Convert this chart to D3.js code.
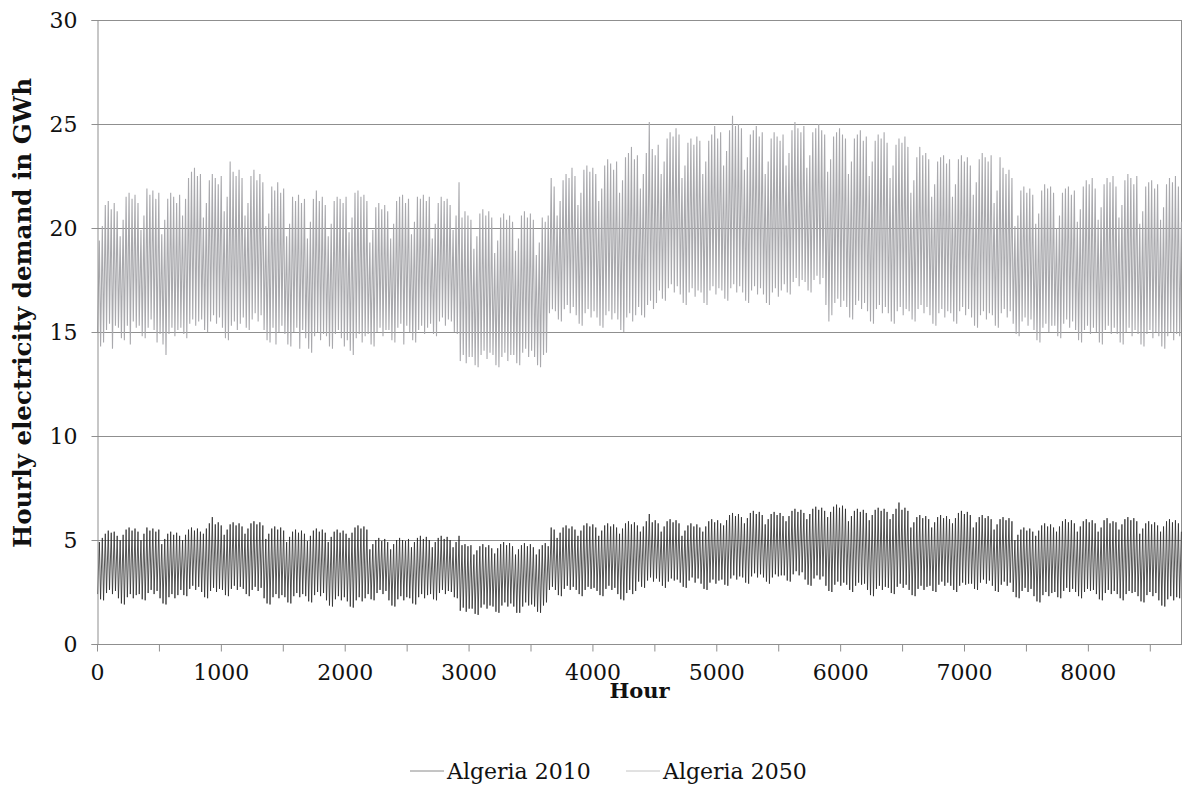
<!DOCTYPE html>
<meta charset="utf-8">
<style>
body { margin: 0; background: #fff; }
.grid line { stroke: #8f8f8f; stroke-width: 1px; }
.axis path, .axis line { stroke: #8f8f8f; stroke-width: 1px; }
.axis text { font-family: "DejaVu Serif", serif; font-size: 22px; fill: #111; }
.title { font-family: "DejaVu Serif", serif; font-weight: bold; fill: #111; }
.legend text { font-family: "DejaVu Serif", serif; font-size: 22px; fill: #111; }
</style>
<svg width="1183" height="787"></svg>
<script src="https://d3js.org/d3.v7.min.js"></script>
<script>

// daily evening peak and early morning trough, GWh, one row per week (Fri, Sat, Sun ... Thu)
var peak2050 = [
  19.4, 20.1, 21.1, 21.3, 20.9, 21.2, 20.8,
  19.6, 20.4, 21.5, 21.7, 21.4, 21.6, 21.2,
  19.9, 20.6, 21.9, 21.6, 21.8, 21.4, 21.7,
  19.7, 20.4, 21.4, 21.7, 21.5, 21.2, 21.6,
  20.6, 21.4, 22.4, 22.7, 22.9, 22.5, 22.6,
  20.5, 21.2, 22.3, 22.6, 22.4, 22.1, 22.5,
  20.8, 21.5, 23.2, 22.7, 22.5, 22.8, 22.4,
  20.6, 21.2, 22.5, 22.8, 22.3, 22.6, 22.2,
  20.1, 20.7, 22.0, 21.8, 22.2, 21.7, 21.9,
  19.6, 20.2, 21.5, 21.3, 21.6, 21.2, 21.4,
  19.5, 20.3, 21.4, 21.8, 21.3, 21.5, 21.1,
  19.6, 20.2, 21.3, 21.5, 21.4, 21.2, 21.5,
  19.8, 20.5, 21.7, 21.8, 21.5, 21.6, 21.3,
  19.3, 19.9, 21.0, 21.2, 20.9, 21.1, 20.8,
  19.5, 20.2, 21.3, 21.5, 21.6, 21.2, 21.4,
  19.7, 20.3, 21.5, 21.4, 21.6, 21.3, 21.5,
  19.5, 20.2, 21.2, 21.5, 21.3, 21.4, 21.1,
  19.9, 20.6, 22.2, 20.5, 20.8, 20.6, 20.4,
  19.0, 19.6, 20.7, 20.9, 20.6, 20.8, 20.5,
  18.8, 19.4, 20.5, 20.7, 20.4, 20.6, 20.3,
  18.9, 19.5, 20.6, 20.8, 20.5, 20.7, 20.4,
  18.7, 19.3, 20.5, 20.3, 20.6, 22.4, 22.0,
  20.6, 21.3, 22.3, 22.6, 22.4, 22.9, 22.5,
  21.1, 21.7, 22.8, 23.0, 22.7, 22.9, 22.6,
  21.3, 21.9, 23.0, 23.3, 23.1, 22.8, 23.2,
  21.7, 22.3, 23.4, 23.6, 23.9, 23.3, 23.5,
  21.9, 22.6, 23.6, 25.1, 23.8, 23.5, 24.0,
  22.6, 23.2, 24.3, 24.6, 24.4, 24.8, 24.5,
  22.4, 23.0, 24.1, 24.3, 24.0, 24.4, 24.2,
  22.6, 23.2, 24.2, 24.5, 24.9, 24.3, 24.6,
  23.0, 23.7, 24.7, 25.4, 24.9, 25.0, 24.8,
  22.8, 23.4, 24.5, 24.7, 24.9, 24.4, 24.6,
  22.6, 23.2, 24.3, 24.6, 24.4, 24.2, 24.5,
  23.0, 23.6, 24.7, 25.1, 24.8, 24.6, 24.9,
  22.9, 23.5, 24.6, 24.8, 25.0, 24.7, 24.5,
  22.7, 23.3, 24.4, 24.6, 24.8, 24.5, 24.3,
  22.6, 23.2, 24.3, 24.5, 24.7, 24.2, 24.4,
  22.5, 23.2, 24.2, 24.5, 24.3, 24.6, 24.1,
  22.4, 23.0, 24.0, 24.3, 24.1, 24.4, 23.9,
  21.7, 22.3, 23.4, 23.9, 23.5, 23.6, 23.3,
  21.5, 22.1, 23.2, 23.4, 23.5, 23.1, 23.3,
  21.5, 22.1, 23.3, 23.5, 23.2, 23.4, 23.0,
  21.6, 22.2, 23.3, 23.6, 23.4, 23.2, 23.5,
  21.2, 21.8, 23.4, 22.9, 22.6, 22.8, 22.4,
  20.1, 20.6, 21.8, 22.0, 21.7, 21.9, 21.6,
  20.2, 20.7, 21.8, 22.1, 21.9, 22.0, 21.7,
  20.0, 20.6, 21.7, 21.9, 22.0, 21.6, 21.8,
  20.3, 20.9, 22.0, 22.3, 22.1, 22.4, 21.9,
  20.4, 21.0, 22.1, 22.4, 22.2, 22.5, 22.0,
  20.5, 21.1, 22.3, 22.6, 22.4, 22.1, 22.5,
  20.2, 20.8, 22.0, 22.2, 22.3, 21.9, 22.1,
  20.4, 21.0, 22.1, 22.4, 22.2, 22.5, 22.0,
  20.3
];

var trough2050 = [
  15.0, 14.3, 14.5, 15.1, 15.4, 14.2, 15.3,
  15.2, 14.7, 14.6, 15.3, 14.4, 15.5, 15.2,
  15.3, 14.8, 14.7, 15.2, 15.6, 15.1, 14.5,
  14.9, 14.4, 13.9, 14.9, 15.2, 14.8, 15.1,
  15.2, 14.9, 14.7, 15.4, 15.6, 15.3, 15.5,
  15.6, 15.1, 15.0, 15.5, 15.8, 15.4, 15.7,
  15.2, 14.7, 14.6, 15.3, 15.5, 15.1, 15.4,
  15.7, 15.2, 15.1, 15.6, 15.9, 15.5, 15.8,
  15.1, 14.6, 14.5, 15.2, 14.4, 15.0, 15.3,
  14.9, 14.4, 14.3, 15.0, 15.2, 14.2, 15.1,
  14.7, 14.2, 14.0, 14.8, 15.0, 14.6, 14.9,
  14.8, 14.3, 14.2, 14.9, 15.1, 14.7, 14.3,
  14.6, 14.1, 13.9, 14.7, 14.9, 14.5, 14.8,
  14.9, 14.4, 14.3, 15.0, 15.2, 14.8, 15.1,
  15.1, 14.6, 14.5, 15.2, 15.4, 14.4, 15.3,
  15.0, 14.6, 14.5, 15.1, 15.3, 14.9, 15.2,
  15.4, 14.9, 14.8, 15.5, 15.7, 15.3, 15.6,
  15.5, 15.0, 14.9, 13.6, 13.9, 13.5, 13.8,
  13.8, 13.4, 13.3, 13.9, 14.1, 13.7, 14.0,
  13.9, 13.4, 13.3, 13.8, 14.0, 13.6, 13.9,
  13.9, 13.5, 13.4, 14.0, 14.2, 13.8, 14.1,
  13.8, 13.4, 13.3, 13.9, 14.0, 15.9, 16.1,
  16.0, 15.6, 15.5, 16.1, 16.3, 15.9, 16.2,
  15.8, 15.4, 15.3, 15.9, 16.1, 15.7, 16.0,
  15.7, 15.3, 15.2, 15.8, 16.0, 15.6, 15.9,
  15.6, 15.1, 15.0, 15.7, 15.9, 15.5, 15.8,
  16.2, 15.8, 15.7, 16.3, 16.5, 16.1, 16.4,
  17.0, 16.6, 16.5, 17.1, 17.3, 16.9, 17.2,
  16.8, 16.4, 16.3, 16.9, 17.1, 16.7, 17.0,
  16.9, 16.4, 16.3, 17.0, 17.2, 16.8, 17.1,
  17.0, 16.6, 16.5, 17.1, 17.3, 16.9, 17.2,
  16.9, 16.5, 16.4, 17.0, 17.2, 16.8, 17.1,
  16.8, 16.4, 16.3, 16.9, 17.1, 16.7, 17.0,
  17.3, 16.9, 16.8, 17.4, 17.6, 17.2, 17.5,
  17.4, 17.0, 16.9, 17.5, 17.7, 17.3, 17.6,
  16.3, 15.5, 15.8, 16.4, 16.6, 16.2, 16.5,
  16.2, 15.7, 15.6, 16.3, 16.5, 16.1, 16.4,
  16.0, 15.5, 15.4, 16.1, 16.3, 15.9, 16.2,
  15.9, 15.5, 15.4, 16.0, 16.2, 15.8, 16.1,
  16.0, 15.6, 15.5, 16.1, 16.3, 15.9, 16.2,
  15.8, 15.4, 15.3, 15.9, 16.1, 15.7, 16.0,
  15.9, 15.5, 15.4, 16.0, 16.2, 15.8, 16.1,
  15.7, 15.3, 15.2, 15.8, 16.0, 15.6, 15.9,
  15.8, 15.3, 15.2, 15.9, 16.1, 15.7, 16.0,
  15.4, 14.9, 14.8, 15.5, 15.7, 15.3, 15.6,
  15.1, 14.6, 14.5, 15.2, 15.4, 15.0, 15.3,
  15.3, 14.8, 14.7, 15.4, 15.6, 15.2, 15.5,
  15.1, 14.6, 14.5, 15.1, 15.3, 14.9, 15.2,
  15.0, 14.5, 14.4, 15.1, 15.3, 14.9, 15.2,
  14.9, 14.5, 14.4, 15.0, 15.2, 14.8, 15.1,
  14.9, 14.4, 14.3, 14.9, 15.1, 14.7, 15.0,
  14.8, 14.3, 14.2, 14.8, 15.0, 14.6, 14.9,
  14.8
];

var peak2010 = [
  4.9, 5.1, 5.3, 5.45, 5.35, 5.4, 5.2,
  5.0, 5.25, 5.5, 5.6, 5.45, 5.55, 5.4,
  5.0, 5.3, 5.6, 5.45, 5.55, 5.4, 5.5,
  4.8, 5.05, 5.3, 5.4, 5.25, 5.35, 5.2,
  5.0, 5.25, 5.5, 5.6, 5.45, 5.55, 5.4,
  5.3, 5.55, 5.8, 6.1, 5.75, 5.85, 5.7,
  5.25, 5.5, 5.75, 5.85, 5.7, 5.8, 5.65,
  5.3, 5.55, 5.8, 5.9, 5.75, 5.85, 5.7,
  5.05, 5.3, 5.55, 5.65, 5.5, 5.6, 5.45,
  4.9, 5.15, 5.4, 5.5, 5.35, 5.45, 5.3,
  4.95, 5.2, 5.45, 5.55, 5.4, 5.5, 5.35,
  4.9, 5.15, 5.4, 5.5, 5.35, 5.45, 5.3,
  5.1, 5.35, 5.6, 5.7, 5.55, 5.65, 5.5,
  4.55, 4.8, 5.0, 5.1, 4.95, 5.05, 4.9,
  4.55, 4.8, 5.0, 5.1, 5.0, 4.95, 5.05,
  4.65, 4.9, 5.1, 5.2, 5.05, 5.15, 5.0,
  4.65, 4.9, 5.1, 5.2, 5.05, 5.15, 5.0,
  4.65, 4.9, 5.2, 4.75, 4.8, 4.7, 4.75,
  4.3, 4.5, 4.7, 4.8, 4.65, 4.75, 4.6,
  4.35, 4.6, 4.8, 4.9, 4.75, 4.85, 4.7,
  4.3, 4.55, 4.75, 4.85, 4.7, 4.8, 4.65,
  4.3, 4.55, 4.75, 4.85, 4.7, 5.6, 5.5,
  5.1, 5.35, 5.6, 5.7, 5.55, 5.65, 5.5,
  5.2, 5.45, 5.7, 5.8, 5.65, 5.75, 5.6,
  5.2, 5.45, 5.7, 5.8, 5.65, 5.75, 5.6,
  5.3, 5.55, 5.8, 5.9, 5.75, 5.85, 5.7,
  5.4, 5.65, 5.9, 6.25, 5.85, 5.95, 5.8,
  5.4, 5.65, 5.9, 6.0, 5.85, 5.95, 5.8,
  5.2, 5.45, 5.7, 5.8, 5.65, 5.75, 5.6,
  5.4, 5.65, 5.9, 6.0, 5.85, 5.95, 5.8,
  5.7, 5.95, 6.2, 6.3, 6.15, 6.25, 6.1,
  5.8, 6.05, 6.3, 6.4, 6.25, 6.35, 6.2,
  5.75, 6.0, 6.25, 6.35, 6.2, 6.3, 6.15,
  5.9, 6.15, 6.4, 6.5, 6.35, 6.45, 6.3,
  6.0, 6.25, 6.5, 6.6, 6.45, 6.55, 6.4,
  6.1, 6.35, 6.6, 6.7, 6.55, 6.65, 6.5,
  5.9, 6.15, 6.4, 6.5, 6.35, 6.45, 6.3,
  5.95, 6.2, 6.45, 6.55, 6.4, 6.5, 6.35,
  6.0, 6.25, 6.5, 6.8, 6.45, 6.55, 6.4,
  5.6, 5.85, 6.1, 6.2, 6.05, 6.15, 6.0,
  5.6, 5.85, 6.1, 6.2, 6.05, 6.15, 6.0,
  5.8, 6.05, 6.3, 6.4, 6.25, 6.35, 6.2,
  5.6, 5.85, 6.1, 6.2, 6.05, 6.15, 6.0,
  5.5, 5.75, 6.0, 6.1, 5.95, 6.05, 5.9,
  5.0, 5.25, 5.5, 5.6, 5.45, 5.55, 5.4,
  5.2, 5.45, 5.7, 5.8, 5.65, 5.75, 5.6,
  5.4, 5.65, 5.9, 6.0, 5.85, 5.95, 5.8,
  5.4, 5.65, 5.9, 6.0, 5.85, 5.95, 5.8,
  5.4, 5.6, 5.95, 6.05, 5.8, 5.9, 5.85,
  5.5, 5.75, 6.0, 6.1, 5.95, 6.05, 5.9,
  5.3, 5.55, 5.8, 5.9, 5.75, 5.85, 5.7,
  5.4, 5.65, 5.9, 6.0, 5.85, 5.95, 5.8,
  5.4
];

var trough2010 = [
  2.4, 2.15, 2.1, 2.45, 2.6, 2.4, 2.55,
  2.2, 1.95, 1.9, 2.25, 2.4, 2.2, 2.35,
  2.4, 2.15, 2.1, 2.45, 2.6, 2.4, 2.55,
  2.2, 1.95, 1.9, 2.25, 2.4, 2.2, 2.35,
  2.6, 2.35, 2.3, 2.65, 2.8, 2.6, 2.75,
  2.5, 2.25, 2.2, 2.55, 2.7, 2.5, 2.65,
  2.6, 2.35, 2.3, 2.65, 2.8, 2.6, 2.75,
  2.65, 2.4, 2.3, 2.6, 2.75, 2.55, 2.7,
  2.2, 1.95, 1.9, 2.25, 2.4, 2.2, 2.35,
  2.25, 2.0, 1.95, 2.3, 2.45, 2.25, 2.4,
  2.3, 2.05, 2.0, 2.35, 2.5, 2.3, 2.45,
  2.1, 1.85, 1.8, 2.15, 2.3, 2.1, 2.25,
  2.05, 1.8, 1.75, 2.1, 2.25, 2.05, 2.2,
  2.4, 2.15, 2.1, 2.45, 2.6, 2.4, 2.55,
  2.1, 1.85, 1.8, 2.15, 2.3, 2.1, 2.25,
  2.2, 1.95, 1.9, 2.25, 2.4, 2.2, 2.35,
  2.4, 2.15, 2.1, 2.45, 2.6, 2.4, 2.55,
  2.5, 2.25, 2.2, 1.6, 1.75, 1.55, 1.7,
  1.7, 1.45, 1.4, 1.75, 1.9, 1.7, 1.85,
  1.8, 1.55, 1.5, 1.85, 2.0, 1.8, 1.95,
  1.8, 1.5, 1.5, 1.8, 2.0, 1.85, 1.9,
  1.8, 1.55, 1.5, 1.85, 2.0, 2.6, 2.75,
  2.6, 2.35, 2.3, 2.65, 2.8, 2.6, 2.75,
  2.6, 2.4, 2.3, 2.6, 2.75, 2.65, 2.7,
  2.55, 2.35, 2.3, 2.65, 2.8, 2.6, 2.7,
  2.4, 2.15, 2.1, 2.45, 2.6, 2.4, 2.55,
  3.0, 2.75, 2.7, 3.05, 3.2, 3.0, 3.15,
  3.0, 2.8, 2.7, 3.0, 3.15, 3.05, 3.1,
  2.95, 2.75, 2.7, 3.05, 3.2, 2.95, 3.15,
  2.9, 2.65, 2.6, 2.95, 3.1, 2.9, 3.05,
  3.1, 2.85, 2.8, 3.15, 3.3, 3.1, 3.25,
  3.2, 2.95, 2.9, 3.25, 3.4, 3.2, 3.35,
  3.2, 3.0, 2.9, 3.2, 3.35, 3.25, 3.3,
  3.3, 3.05, 3.0, 3.35, 3.5, 3.3, 3.45,
  3.1, 2.85, 2.8, 3.15, 3.3, 3.1, 3.25,
  2.8, 2.55, 2.5, 2.85, 3.0, 2.8, 2.95,
  2.85, 2.6, 2.5, 2.8, 2.95, 2.85, 2.9,
  2.6, 2.35, 2.3, 2.65, 2.8, 2.6, 2.75,
  2.7, 2.45, 2.4, 2.75, 2.9, 2.7, 2.85,
  2.6, 2.35, 2.3, 2.65, 2.8, 2.6, 2.75,
  2.8, 2.55, 2.5, 2.85, 3.0, 2.8, 2.95,
  2.8, 2.6, 2.5, 2.8, 2.95, 2.85, 2.9,
  2.9, 2.65, 2.6, 2.95, 3.1, 2.9, 3.05,
  2.8, 2.55, 2.5, 2.85, 3.0, 2.8, 2.95,
  2.5, 2.25, 2.2, 2.55, 2.7, 2.5, 2.65,
  2.3, 2.05, 2.0, 2.35, 2.5, 2.3, 2.45,
  2.5, 2.25, 2.2, 2.55, 2.7, 2.5, 2.65,
  2.5, 2.3, 2.2, 2.5, 2.65, 2.55, 2.6,
  2.4, 2.15, 2.1, 2.45, 2.6, 2.4, 2.55,
  2.4, 2.2, 2.1, 2.4, 2.55, 2.45, 2.5,
  2.3, 2.05, 2.0, 2.35, 2.5, 2.3, 2.45,
  2.1, 1.85, 1.8, 2.15, 2.3, 2.1, 2.25,
  2.2
];

var yTicks = [0, 5, 10, 15, 20, 25, 30];
var seriesNames = ["Algeria 2010", "Algeria 2050"];
var seriesColors = ["#2b2b2b", "#a9a9ad"];
var legendColors = ["#8a8a8a", "#c4c4c4"];

var svg = d3.select("svg");
var margin = {left: 97, right: 1, top: 20, bottom: 143};
var width = +svg.attr("width"), height = +svg.attr("height");

var x = d3.scaleLinear().domain([0, 8760]).range([margin.left, width - margin.right]);
var y = d3.scaleLinear().domain([0, 30]).range([height - margin.bottom, margin.top]);

// trough around 5h, peak around 19h each day
function toPoints(troughs, peaks) {
  var pts = [];
  for (var d = 0; d < troughs.length; d++) {
    pts.push({h: d * 24 + 5, v: troughs[d]});
    pts.push({h: d * 24 + 19, v: peaks[d]});
  }
  return pts;
}

var series = [toPoints(trough2010, peak2010), toPoints(trough2050, peak2050)];

svg.append("g")
    .attr("class", "grid")
  .selectAll("line")
  .data(yTicks.slice(1))
  .enter().append("line")
    .attr("x1", x(0)).attr("x2", x(8760))
    .attr("y1", function(d) { return Math.round(y(d)) + 0.5; })
    .attr("y2", function(d) { return Math.round(y(d)) + 0.5; });

// right edge of plot area
svg.append("line")
    .attr("x1", x(8760) - 0.5).attr("x2", x(8760) - 0.5)
    .attr("y1", y(30)).attr("y2", y(0))
    .attr("stroke", "#8f8f8f");

var line = d3.line()
    .x(function(p) { return x(p.h); })
    .y(function(p) { return y(p.v); });

// 2050 behind, 2010 on top
svg.append("path")
    .datum(series[1])
    .attr("fill", "none")
    .attr("stroke", seriesColors[1])
    .attr("stroke-width", 1.1)
    .attr("d", line);

svg.append("path")
    .datum(series[0])
    .attr("fill", "none")
    .attr("stroke", seriesColors[0])
    .attr("stroke-width", 0.8)
    .attr("d", line);

var xAxis = d3.axisBottom(x)
    .tickValues(d3.range(0, 8760, 500))
    .tickSize(7)
    .tickPadding(13)
    .tickFormat(function(d) { return d % 1000 === 0 ? d : ""; });

svg.append("g")
    .attr("class", "axis")
    .attr("transform", "translate(0," + (Math.round(y(0)) + 0.5) + ")")
    .call(xAxis)
    .call(function(g) { g.select(".domain").attr("d", "M" + x(0) + ",0H" + x(8760)); });

var yAxis = d3.axisLeft(y)
    .tickValues(yTicks)
    .tickSize(6)
    .tickPadding(14)
    .tickFormat(d3.format("d"));

svg.append("g")
    .attr("class", "axis")
    .attr("transform", "translate(" + (x(0) + 0.5) + ",0)")
    .call(yAxis);

svg.append("text")
    .attr("class", "title")
    .attr("x", (x(0) + x(8760)) / 2)
    .attr("y", 698)
    .attr("text-anchor", "middle")
    .style("font-size", "21px")
    .text("Hour");

svg.append("text")
    .attr("class", "title")
    .attr("transform", "translate(31,313) rotate(-90)")
    .attr("text-anchor", "middle")
    .attr("textLength", 470)
    .attr("lengthAdjust", "spacingAndGlyphs")
    .style("font-size", "24px")
    .text("Hourly electricity demand in GWh");

var legend = svg.append("g")
    .attr("class", "legend")
  .selectAll("g")
  .data(seriesNames)
  .enter().append("g")
    .attr("transform", function(d, i) { return "translate(" + (410 + i * 216) + ",771)"; });

legend.append("line")
    .attr("x1", 0).attr("x2", 34)
    .attr("stroke", function(d, i) { return legendColors[i]; })
    .attr("stroke-width", 1);

legend.append("text")
    .attr("x", 37)
    .attr("y", 8)
    .text(function(d) { return d; });

</script>
